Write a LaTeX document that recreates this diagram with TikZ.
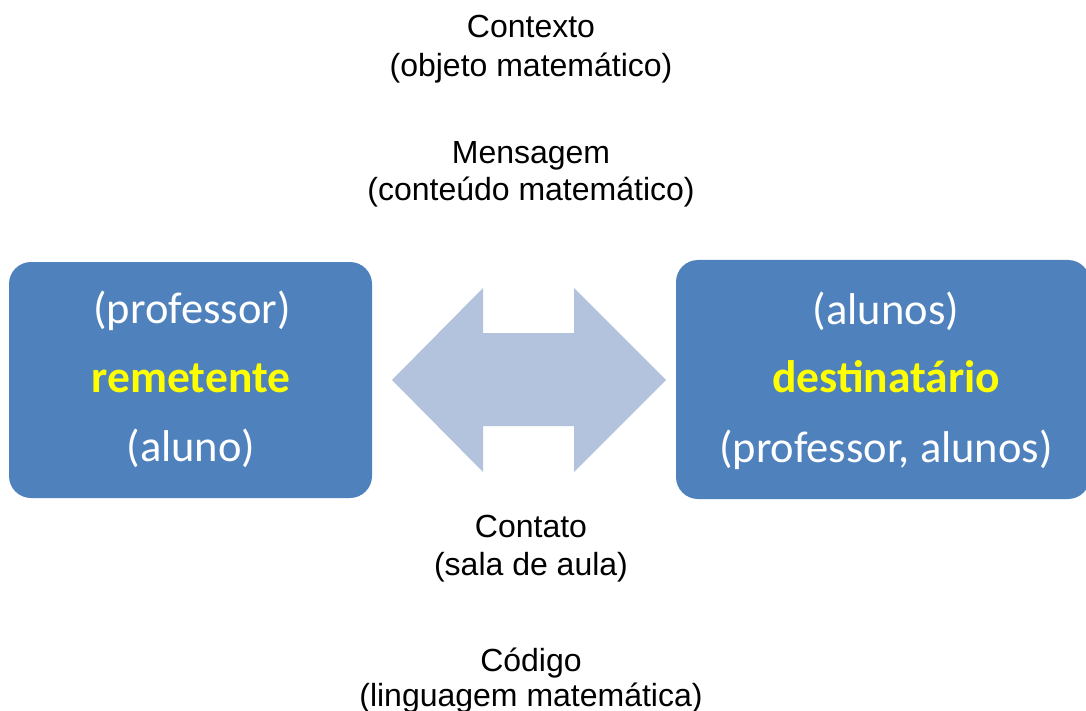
\documentclass[tikz,border=0pt]{standalone}
\usepackage{fontspec}
\setmainfont{Liberation Sans}
\newfontfamily\boxfont{Carlito}
\definecolor{boxblue}{HTML}{4F81BD}
\definecolor{arrowblue}{HTML}{B3C3DE}
\definecolor{hiyellow}{HTML}{FFFF00}
\begin{document}
\begin{tikzpicture}[x=1pt,y=-1pt,
  box/.style={fill=boxblue, draw=none, rounded corners=22pt, inner sep=0},
  lbl/.style={font=\fontsize{32}{38}\selectfont, anchor=base, inner sep=0},
  btxt/.style={font=\boxfont\fontsize{44.5}{52}\selectfont, text=white, anchor=base, inner sep=0},
  bkey/.style={font=\boxfont\bfseries\fontsize{45.5}{52}\selectfont, text=hiyellow, anchor=base, inner sep=0}]
\useasboundingbox (0,0) rectangle (1086,711);
% boxes
\node[box, minimum width=363pt, minimum height=236pt] (rem) at (190.5,380) {};
\node[box, minimum width=414pt, minimum height=239pt] (dest) at (883,379.5) {};
% double arrow
\fill[arrowblue] (392,380) -- (483,288) -- (483,333) -- (574,333) -- (574,288)
  -- (666,380) -- (574,472) -- (574,426) -- (483,426) -- (483,472) -- cycle;
% box texts
\node[btxt] (r1) at (192,323) {(professor)};
\node[bkey] (r2) at (191,392) {remetente};
\node[btxt] (r3) at (191,461) {(aluno)};
\node[btxt] (d1) at (886,324) {(alunos)};
\node[bkey] (d2) at (886,392) {destinatário};
\node[btxt] (d3) at (886,462) {(professor, alunos)};
% outside labels
\node[lbl] (c1) at (531,38) {Contexto};
\node[lbl] (c2) at (531,77) {(objeto matemático)};
\node[lbl] (m1) at (531,164) {Mensagem};
\node[lbl] (m2) at (531,201) {(conteúdo matemático)};
\node[lbl] (k1) at (531,537) {Contato};
\node[lbl] (k2) at (531,575) {(sala de aula)};
\node[lbl] (g1) at (531,671) {Código};
\node[lbl] (g2) at (531,706) {(linguagem matemática)};
\end{tikzpicture}
\end{document}
